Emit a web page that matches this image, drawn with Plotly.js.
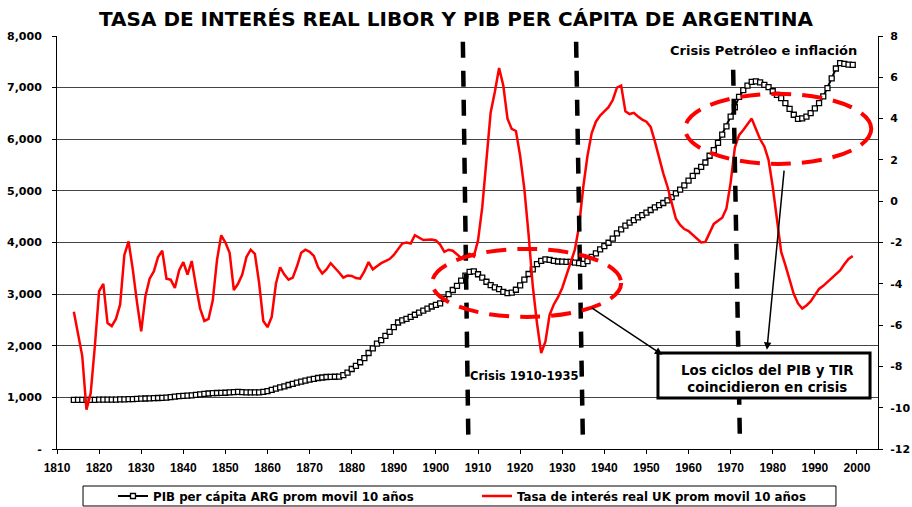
<!DOCTYPE html>
<html>
<head>
<meta charset="utf-8">
<script src="https://cdn.plot.ly/plotly-3.0.1.min.js"></script>
<style>html,body{margin:0;padding:0;background:#fff;}#chart{width:912px;height:507px;}</style>
</head>
<body>
<div id="chart"></div>
<script>
// ---- Data ----
const years = [
  1814,1815,1816,1817,1818,1819,
  1820,1821,1822,1823,1824,1825,1826,1827,1828,1829,
  1830,1831,1832,1833,1834,1835,1836,1837,1838,1839,
  1840,1841,1842,1843,1844,1845,1846,1847,1848,1849,
  1850,1851,1852,1853,1854,1855,1856,1857,1858,1859,
  1860,1861,1862,1863,1864,1865,1866,1867,1868,1869,
  1870,1871,1872,1873,1874,1875,1876,1877,1878,1879,
  1880,1881,1882,1883,1884,1885,1886,1887,1888,1889,
  1890,1891,1892,1893,1894,1895,1896,1897,1898,1899,
  1900,1901,1902,1903,1904,1905,1906,1907,1908,1909,
  1910,1911,1912,1913,1914,1915,1916,1917,1918,1919,
  1920,1921,1922,1923,1924,1925,1926,1927,1928,1929,
  1930,1931,1932,1933,1934,1935,1936,1937,1938,1939,
  1940,1941,1942,1943,1944,1945,1946,1947,1948,1949,
  1950,1951,1952,1953,1954,1955,1956,1957,1958,1959,
  1960,1961,1962,1963,1964,1965,1966,1967,1968,1969,
  1970,1971,1972,1973,1974,1975,1976,1977,1978,1979,
  1980,1981,1982,1983,1984,1985,1986,1987,1988,1989,
  1990,1991,1992,1993,1994,1995,1996,1997,1998,1999
];

// PIB per cápita ARG, prom. móvil 10 años (eje izquierdo)
const pibArg = [
  950,950,950,950,952,952,
  955,955,955,957,957,960,962,965,967,970,
  975,978,982,985,988,990,995,1005,1015,1025,
  1030,1035,1040,1050,1060,1068,1075,1082,1085,1088,
  1090,1095,1100,1105,1100,1098,1095,1095,1098,1105,
  1120,1145,1170,1195,1215,1240,1262,1285,1305,1325,
  1345,1360,1375,1385,1395,1398,1400,1402,1430,1480,
  1550,1610,1680,1760,1860,1950,2040,2110,2190,2270,
  2360,2450,2490,2520,2560,2600,2640,2680,2720,2760,
  2790,2820,2910,3000,3080,3160,3260,3360,3430,3440,
  3385,3320,3240,3175,3130,3095,3045,3020,3030,3085,
  3170,3280,3390,3480,3580,3645,3675,3665,3645,3632,
  3630,3625,3624,3612,3600,3585,3640,3720,3790,3865,
  3930,3995,4075,4175,4255,4325,4385,4435,4485,4530,
  4580,4630,4680,4725,4765,4815,4880,4950,5025,5105,
  5200,5290,5385,5465,5550,5680,5790,5930,6090,6250,
  6440,6620,6820,6950,7040,7110,7120,7100,7055,7010,
  6930,6860,6795,6700,6590,6475,6395,6405,6440,6505,
  6600,6700,6830,6990,7180,7370,7475,7460,7445,7442
];

// Tasa de interés real UK, prom. móvil 10 años (eje derecho, %)
const tasaUK = [
  -5.35,-6.5,-7.5,-10.1,-9.3,-7.0,
  -4.35,-4.0,-5.9,-6.05,-5.7,-5.0,-2.6,-1.95,-3.3,-4.9,
  -6.3,-4.6,-3.75,-3.4,-2.7,-2.4,-3.75,-3.8,-4.2,-3.35,
  -2.95,-3.55,-2.9,-4.1,-5.2,-5.8,-5.7,-4.8,-2.85,-1.65,
  -2.0,-2.5,-4.3,-4.0,-3.55,-2.7,-2.35,-2.55,-3.95,-5.8,
  -6.1,-5.6,-4.0,-3.2,-3.55,-3.8,-3.7,-3.15,-2.5,-2.35,
  -2.45,-2.65,-3.2,-3.5,-3.3,-3.0,-3.2,-3.45,-3.7,-3.6,
  -3.62,-3.72,-3.75,-3.4,-2.95,-3.3,-3.15,-3.0,-2.9,-2.8,
  -2.6,-2.35,-2.05,-2.0,-2.05,-1.65,-1.75,-1.88,-1.87,-1.86,
  -1.9,-2.1,-2.45,-2.35,-2.4,-2.6,-2.75,-2.6,-2.55,-2.68,
  -1.9,-0.3,1.9,4.3,5.3,6.45,5.6,4.0,3.5,3.4,
  2.2,0.6,-1.6,-4.1,-5.9,-7.35,-6.8,-5.5,-5.0,-4.65,
  -4.2,-3.55,-2.9,-2.35,-1.2,0.7,2.2,3.3,3.85,4.15,
  4.35,4.55,4.9,5.5,5.6,4.35,4.22,4.28,4.1,3.95,
  3.85,3.6,2.9,2.1,1.35,0.7,-0.1,-0.85,-1.15,-1.35,
  -1.45,-1.65,-1.85,-2.0,-1.97,-1.5,-1.1,-0.95,-0.8,-0.35,
  0.9,2.6,3.2,3.45,3.75,4.0,3.5,3.0,2.65,2.0,
  0.7,-0.9,-2.45,-3.1,-3.75,-4.5,-4.95,-5.2,-5.05,-4.85,
  -4.55,-4.25,-4.1,-3.9,-3.72,-3.55,-3.35,-3.05,-2.8,-2.65
];

// Tick values / labels
const xTickVals = [1810,1820,1830,1840,1850,1860,1870,1880,1890,1900,1910,1920,1930,1940,1950,1960,1970,1980,1990,2000];
const xTickText = ['1810','1820','1830','1840','1850','1860','1870','1880','1890','1900','1910','1920','1930','1940','1950','1960','1970','1980','1990','2000'];
const leftTickVals = [0,1000,2000,3000,4000,5000,6000,7000,8000];
const leftTickText = ['-','1,000','2,000','3,000','4,000','5,000','6,000','7,000','8,000'];
const rightTickVals = [-12,-10,-8,-6,-4,-2,0,2,4,6,8];
const rightTickText = ['-12','-10','-8','-6','-4','-2','0','2','4','6','8'];

const seriesNames = ['PIB per cápita ARG prom movil 10 años', 'Tasa de interés real UK prom movil 10 años'];
const titleText = 'TASA DE INTERÉS REAL LIBOR Y PIB PER CÁPITA DE ARGENTINA';

// ---- Chart ----
const F = 'DejaVu Sans';
const bold = (size, fam) => ({family: fam || F, size: size, weight: 'bold', color: '#000'});

const traces = [
  {
    x: years, y: pibArg, name: seriesNames[0], type: 'scatter', mode: 'lines+markers',
    yaxis: 'y',
    line: {color: '#000', width: 2},
    marker: {symbol: 'square', size: 5, color: '#fff', line: {color: '#000', width: 1.3}}
  },
  {
    x: years, y: tasaUK, name: seriesNames[1], type: 'scatter', mode: 'lines',
    yaxis: 'y2',
    line: {color: '#ff0000', width: 2.5}
  }
];

const vDash = {color: '#000', width: 4.5, dash: '16px,13px'};
const eDash = {color: '#ff0000', width: 4, dash: '20px,11px'};

const layout = {
  width: 912, height: 507,
  margin: {l: 57, r: 34, t: 36, b: 58, autoexpand: false},
  paper_bgcolor: '#fff', plot_bgcolor: '#fff',
  title: {text: titleText, font: bold(20), x: 0.5, xref: 'container', xanchor: 'center',
          y: 0.9625, yref: 'container', yanchor: 'middle'},
  xaxis: {
    range: [1810, 2005], tickvals: xTickVals, ticktext: xTickText,
    ticks: 'outside', ticklen: 4, tickcolor: '#000', tickwidth: 1,
    showline: true, linecolor: '#000', linewidth: 1, showgrid: false, zeroline: false,
    tickfont: bold(12, 'Liberation Sans'), ticklabelstandoff: 4
  },
  yaxis: {
    range: [0, 8000], tickvals: leftTickVals, ticktext: leftTickText,
    ticks: 'outside', ticklen: 4, tickcolor: '#000', tickwidth: 1,
    showline: true, linecolor: '#000', linewidth: 1,
    showgrid: true, gridcolor: '#444', gridwidth: 1, zeroline: false,
    tickfont: bold(11), ticklabelstandoff: 8
  },
  yaxis2: {
    range: [-12, 8], overlaying: 'y', side: 'right',
    tickvals: rightTickVals, ticktext: rightTickText,
    ticks: 'outside', ticklen: 4, tickcolor: '#000', tickwidth: 1,
    showline: true, linecolor: '#000', linewidth: 1, showgrid: false, zeroline: false,
    tickfont: bold(11), ticklabelstandoff: 5
  },
  showlegend: true,
  legend: {
    orientation: 'h', x: 0.0682, xanchor: 'left', y: -0.1138, yanchor: 'middle',
    bgcolor: 'rgba(0,0,0,0)', borderwidth: 0, font: bold(11.8),
    entrywidth: 319, entrywidthmode: 'pixels', itemwidth: 30
  },
  shapes: [
    // legend frame
    {type: 'rect', xref: 'paper', yref: 'paper', x0: 0.0317, x1: 0.9488, y0: -0.138, y1: -0.0896,
     line: {color: '#000', width: 1}, fillcolor: 'rgba(0,0,0,0)'},
    // crisis vertical dashed lines
    {type: 'line', xref: 'x', yref: 'y', x0: 1906.4, y0: 7890, x1: 1907.7, y1: 174, line: vDash},
    {type: 'line', xref: 'x', yref: 'y', x0: 1933.3, y0: 7890, x1: 1934.9, y1: 174, line: vDash},
    {type: 'line', xref: 'x', yref: 'y', x0: 1970.6, y0: 7345, x1: 1972.2, y1: 174, line: vDash},
    // red dashed ellipses
    {type: 'circle', xref: 'x', yref: 'y', x0: 1899.1, x1: 1944.0, y0: 2558, y1: 3876, line: eDash},
    {type: 'circle', xref: 'x', yref: 'y', x0: 1959.2, x1: 2003.4, y0: 5523, y1: 6880, line: eDash},
    // annotation box
    {type: 'rect', xref: 'paper', yref: 'paper', x0: 0.7320, x1: 0.9903, y0: 0.1235, y1: 0.2324,
     line: {color: '#000', width: 3}, fillcolor: '#fff'}
  ],
  annotations: [
    {text: 'Crisis Petróleo e inflación', xref: 'paper', yref: 'paper', x: 0.8605, y: 0.9661,
     showarrow: false, font: bold(13), xanchor: 'center', yanchor: 'middle'},
    {text: 'Crisis 1910-1935', xref: 'paper', yref: 'paper', x: 0.5688, y: 0.1768,
     showarrow: false, font: bold(11.5), xanchor: 'center', yanchor: 'middle'},
    {text: 'Los ciclos del PIB y TIR<br>coincidieron en crisis', xref: 'paper', yref: 'paper',
     x: 0.8648, y: 0.1702, showarrow: false, font: bold(13.4), xanchor: 'center', yanchor: 'middle'},
    {text: '', xref: 'x', yref: 'y', x: 1953.76, y: 1825, axref: 'x', ayref: 'y', ax: 1936.66, ay: 2755,
     showarrow: true, arrowhead: 2, arrowsize: 1, arrowwidth: 1.5, arrowcolor: '#000', standoff: 0},
    {text: '', xref: 'x', yref: 'y', x: 1978.62, y: 1922, axref: 'x', ayref: 'y', ax: 1982.73, ay: 5420,
     showarrow: true, arrowhead: 2, arrowsize: 1, arrowwidth: 1.5, arrowcolor: '#000', standoff: 0}
  ]
};

Plotly.newPlot('chart', traces, layout, {displayModeBar: false, staticPlot: true});
</script>
</body>
</html>
